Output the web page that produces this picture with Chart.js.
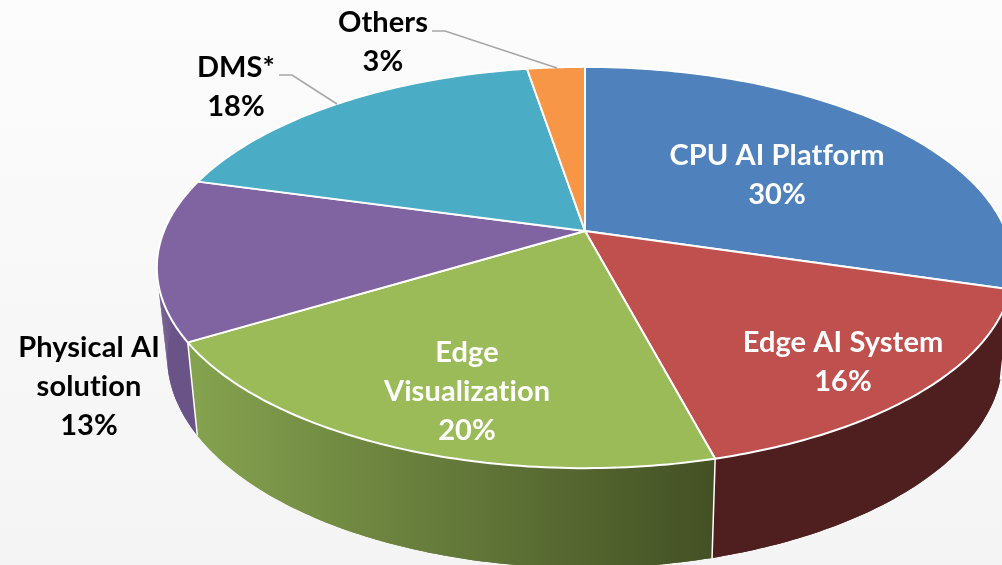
<!DOCTYPE html>
<html>
<head>
<meta charset="utf-8">
<title>AI revenue share</title>
<script src="https://cdn.jsdelivr.net/npm/chart.js@4"></script>
<style>
html, body { margin: 0; padding: 0; background: #f7f7f7; }
canvas { display: block; }
</style>
</head>
<body>
<canvas id="chart" width="1002" height="565"></canvas>
<script>
var categories = ['CPU AI Platform', 'Edge AI System', 'Edge Visualization', 'Physical AI solution', 'DMS*', 'Others'];
// each one rounds to the percentage printed on the slice
var shares = [29.6, 16.3, 20.4, 13.0, 18.1, 2.6];
var topColors = ['#4f81bd', '#c0504d', '#9bbb59', '#8064a2', '#4bacc6', '#f79646'];
var sideColorsLeft = ['#2b4a70', '#4e1f1e', '#85a34f', '#6a5387', '#2f6b7c', '#99592a'];
var sideColorsRight = ['#2b4a70', '#4e1f1e', '#435024', '#6a5387', '#2f6b7c', '#99592a'];

// where each label sits, split into lines like the original
var labelLines = [['CPU AI Platform'], ['Edge AI System'], ['Edge', 'Visualization'], ['Physical AI', 'solution'], ['DMS*'], ['Others']];
var labelX = [777, 843, 467, 89, 236, 383];
var labelY = [156, 343, 353, 348, 68, 23];
var labelColor = ['#fff', '#fff', '#fff', '#000', '#000', '#000'];
var leaderLines = [
	[[432, 31], [445, 31], [557, 68]],
	[[279, 75], [292, 75], [337, 104]]
];

// perspective of the tilted disc, fitted by eye on the rim of the reference
var apexX = 585, apexY = 231;
var spanX = 421, spanY = 194, tilt = 0.182;

function topPoint(angle) {
	var u = Math.cos(angle), v = Math.sin(angle);
	var w = 1 - tilt * v;
	return { x: apexX + spanX * u / w, y: apexY + spanY * v / w };
}

// bottom rim: pulled in a little and pushed down a bit more at the front
function bottomPoint(angle) {
	var p = topPoint(angle);
	return { x: apexX + (p.x - apexX) * 0.976, y: p.y + 93 + (p.y - 341) * 0.053 };
}

function rimPoints(arc, project) {
	var pts = [], steps = 80;
	for (var i = 0; i <= steps; i++) {
		pts.push(project(arc.startAngle + (arc.endAngle - arc.startAngle) * i / steps));
	}
	return pts;
}

function tracePoints(ctx, pts, moveFirst) {
	pts.forEach(function(p, i) {
		if (i === 0 && moveFirst) {
			ctx.moveTo(p.x, p.y);
		} else {
			ctx.lineTo(p.x, p.y);
		}
	});
}

var disc3d = {
	id: 'disc3d',
	beforeDatasetDraw: function(chart) {
		var ctx = chart.ctx;
		var arcs = chart.getDatasetMeta(0).data;
		ctx.save();

		arcs.forEach(function(arc, i) {
			var upper = rimPoints(arc, topPoint);
			var lower = rimPoints(arc, bottomPoint);
			var gradient = ctx.createLinearGradient(upper[0].x, 0, upper[upper.length - 1].x, 0);
			gradient.addColorStop(0, i === 2 ? sideColorsRight[i] : sideColorsLeft[i]);
			gradient.addColorStop(1, i === 2 ? sideColorsLeft[i] : sideColorsRight[i]);
			ctx.fillStyle = gradient;

			// whole wall first, it hides the hairlines between the quads below
			ctx.beginPath();
			tracePoints(ctx, upper, true);
			tracePoints(ctx, lower.slice().reverse(), false);
			ctx.closePath();
			ctx.fill();

			// quads one by one: the wall folds at the widest point of the rim, a single path would cancel there
			for (var n = 0; n < upper.length - 1; n++) {
				ctx.beginPath();
				ctx.moveTo(upper[n].x, upper[n].y);
				ctx.lineTo(upper[n + 1].x, upper[n + 1].y);
				ctx.lineTo(lower[n + 1].x, lower[n + 1].y);
				ctx.lineTo(lower[n].x, lower[n].y);
				ctx.closePath();
				ctx.fill();
			}
		});

		// white seams between the front walls
		ctx.strokeStyle = '#fff';
		ctx.lineWidth = 1.5;
		arcs.forEach(function(arc) {
			if (Math.sin(arc.endAngle) > 0) {
				var a = topPoint(arc.endAngle), b = bottomPoint(arc.endAngle);
				ctx.beginPath();
				ctx.moveTo(a.x, a.y);
				ctx.lineTo(b.x, b.y);
				ctx.stroke();
			}
		});

		arcs.forEach(function(arc, i) {
			ctx.beginPath();
			ctx.moveTo(apexX, apexY);
			tracePoints(ctx, rimPoints(arc, topPoint), false);
			ctx.closePath();
			ctx.fillStyle = topColors[i];
			ctx.fill();
			ctx.strokeStyle = '#fff';
			ctx.lineWidth = 2;
			ctx.lineJoin = 'round';
			ctx.stroke();
		});

		ctx.restore();
		return false;
	},
	beforeDraw: function(chart) {
		var ctx = chart.ctx;
		var shade = ctx.createLinearGradient(0, 0, 0, 565);
		shade.addColorStop(0, '#fcfcfc');
		shade.addColorStop(1, '#f4f4f4');
		ctx.save();
		ctx.fillStyle = shade;
		ctx.fillRect(0, 0, chart.width, chart.height);
		ctx.restore();
	},
	afterDraw: function(chart) {
		var ctx = chart.ctx;
		ctx.save();

		ctx.strokeStyle = '#a6a6a6';
		ctx.lineWidth = 1.5;
		leaderLines.forEach(function(line) {
			ctx.beginPath();
			line.forEach(function(p, i) {
				if (i === 0) {
					ctx.moveTo(p[0], p[1]);
				} else {
					ctx.lineTo(p[0], p[1]);
				}
			});
			ctx.stroke();
		});

		ctx.font = 'bold 29px Lato';
		ctx.letterSpacing = '0.1px';
		ctx.textAlign = 'center';
		ctx.textBaseline = 'middle';
		labelLines.forEach(function(lines, i) {
			var text = lines.concat(Math.round(shares[i]) + '%');
			ctx.fillStyle = labelColor[i];
			text.forEach(function(line, n) {
				ctx.fillText(line, labelX[i], labelY[i] + n * 38.7);
			});
		});

		ctx.restore();
	}
};

new Chart(document.getElementById('chart'), {
	type: 'pie',
	data: {
		labels: categories,
		datasets: [ {
			data: shares,
			backgroundColor: topColors
		} ]
	},
	options: {
		responsive: false,
		animation: false,
		plugins: {
			legend: { display: false },
			tooltip: { enabled: false }
		}
	},
	plugins: [ disc3d ]
});
</script>
</body>
</html>
